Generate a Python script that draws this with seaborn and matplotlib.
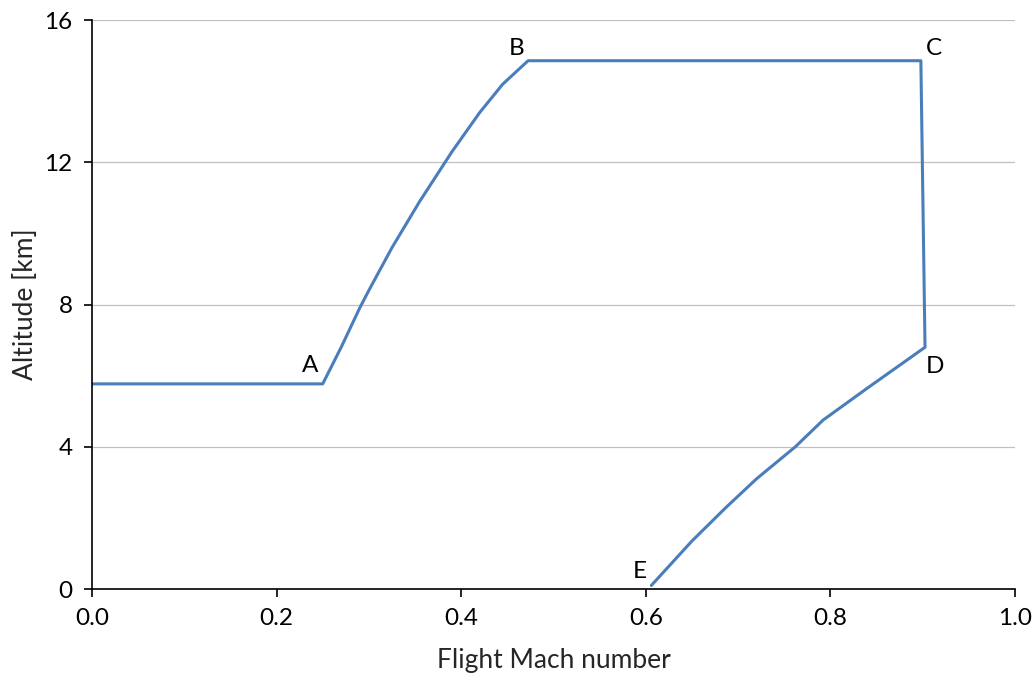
import matplotlib
matplotlib.use("Agg")
import matplotlib.pyplot as plt
import seaborn as sns
import pandas as pd
import numpy as np

# flight path
mach = [0.0, 0.25, 0.27, 0.29, 0.30, 0.325, 0.355, 0.39, 0.42, 0.445, 0.4725,
        0.898, 0.9025, 0.84, 0.792, 0.762, 0.72, 0.6875, 0.65, 0.606]
altitude = [5.77, 5.77, 6.8, 7.9, 8.4, 9.6, 10.9, 12.3, 13.4, 14.2, 14.86,
            14.86, 6.8, 5.65, 4.75, 4.0, 3.1, 2.31, 1.35, 0.1]

point_names = ["A", "B", "C", "D", "E"]
point_x = [0.236, 0.460, 0.912, 0.913, 0.593]
point_y = [6.3, 15.2, 15.2, 6.27, 0.5]

x_ticks = [0.0, 0.2, 0.4, 0.6, 0.8, 1.0]
y_ticks = [0, 4, 8, 12, 16]

df = pd.DataFrame({"mach": mach, "alt": altitude})

sns.set_style("white")
plt.rcParams['font.family'] = ['Lato', 'DejaVu Sans']

fig = plt.figure(figsize=(10.33, 6.73), dpi=100)
ax = fig.add_axes([0.089, 0.1248, 0.8936, 0.8452])

sns.lineplot(data=df, x="mach", y="alt", sort=False, estimator=None,
             color="#4a7ebb", linewidth=2.2, ax=ax)

for name, tx, ty in zip(point_names, point_x, point_y):
    ax.text(tx, ty, name, ha="center", va="center", fontsize=17.5, color="black")

ax.set_xlim(0, 1.0)
ax.set_ylim(0, 16)
ax.set_xticks(x_ticks)
ax.set_xticklabels([f"{v:.1f}" for v in x_ticks])
ax.set_yticks(y_ticks)
ax.set_yticklabels([str(v) for v in y_ticks])
ax.yaxis.grid(True, color="#c0c0c0", linewidth=0.9)
ax.set_axisbelow(True)

for side in ["top", "right"]:
    ax.spines[side].set_visible(False)
for side in ["left", "bottom"]:
    ax.spines[side].set_color("black")
    ax.spines[side].set_linewidth(1.2)

ax.tick_params(axis="both", direction="out", length=6, width=1.2,
               labelsize=17.5, colors="black", pad=8, left=True, bottom=True)

ax.set_xlabel("Flight Mach number", fontsize=19, labelpad=13)
ax.set_ylabel("Altitude [km]", fontsize=19, labelpad=4.5)

fig.savefig("out.png", dpi=100)
